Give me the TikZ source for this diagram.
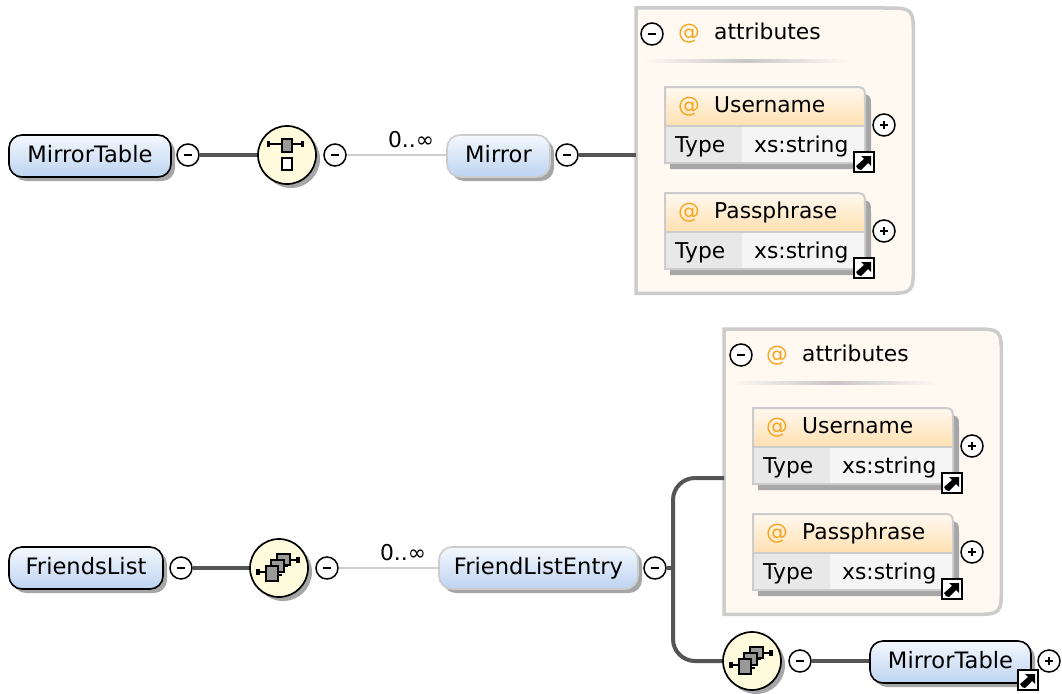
\documentclass[tikz,border=0pt]{standalone}
\usepackage{fontspec}
\setmainfont{DejaVu Sans}
\usetikzlibrary{shadows,calc}
\definecolor{cream}{HTML}{FFF9F2}
\definecolor{frame}{HTML}{CCCCCC}
\definecolor{wire}{HTML}{555555}
\definecolor{thinw}{HTML}{CFCFCF}
\definecolor{orng}{HTML}{F5A623}
\definecolor{blueA}{HTML}{F4F8FE}
\definecolor{blueB}{HTML}{BDD3F0}
\definecolor{headA}{HTML}{FFF9F0}
\definecolor{headB}{HTML}{FFE0B2}
\definecolor{yel}{HTML}{FFFBDC}
\tikzset{
 x=1pt,y=-1pt,
 lbl/.style={font=\fontsize{21.8}{24}\selectfont,text=black,inner sep=0pt,text height=16pt,text depth=4pt},
 elem/.style={rectangle,rounded corners=13pt,inner sep=0pt,minimum height=42pt,top color=blueA,bottom color=blueB,line width=1.6pt,lbl,
   font=\fontsize{22.6}{24}\selectfont,
   drop shadow={shadow xshift=4pt,shadow yshift=-4pt,fill=black,opacity=.35}},
 elemglobal/.style={elem,draw=black},
 elemlocal/.style={elem,draw=frame},
 minusc/.style={circle,draw=black,fill=white,line width=1.5pt,minimum size=22pt,inner sep=0pt,
   path picture={\draw[line width=1.6pt] ($(path picture bounding box.center)+(-4,0)$) -- ($(path picture bounding box.center)+(4,0)$);}},
 plusc/.style={circle,draw=black,fill=white,line width=1.5pt,minimum size=22pt,inner sep=0pt,
   path picture={\draw[line width=1.6pt] ($(path picture bounding box.center)+(-4,0)$) -- ($(path picture bounding box.center)+(4,0)$);
     \draw[line width=1.6pt] ($(path picture bounding box.center)+(0,-4)$) -- ($(path picture bounding box.center)+(0,4)$);}},
 comp/.style={circle,draw=black,fill=yel,line width=1.7pt,minimum size=58pt,inner sep=0pt,
   drop shadow={shadow xshift=4pt,shadow yshift=-4pt,fill=black,opacity=.35}},
 thickwire/.style={draw=wire,line width=4pt},
 thinwire/.style={draw=thinw,line width=1.8pt},
 attrs/.style={rectangle,inner sep=0pt,anchor=north west,minimum width=277pt,minimum height=285pt},
 attrsframe/.style={draw=frame,line width=3.5pt,fill=cream},
 atsign/.style={lbl,text=orng},
 iconbox/.style={draw=black,line width=1.8pt,fill=black!40},
 iconwhite/.style={draw=black,line width=1.8pt,fill=white},
 iconwire/.style={draw=black,line width=1.8pt},
}
% reference arrow icon: name, x, y
\newcommand{\linkicon}[3]{%
 \node[rectangle,draw=black,fill=white,line width=1.5pt,minimum size=20pt,inner sep=0pt,
   path picture={
     \coordinate (pc) at (path picture bounding box.center);
     \fill[black] ($(pc)+(-6,7)$) -- ($(pc)+(-8,4)$) -- ($(pc)+(0,-3)$) -- ($(pc)+(-3,-6)$) -- ($(pc)+(7,-6)$) -- ($(pc)+(7,4)$) -- ($(pc)+(4,1)$) -- ($(pc)+(-3,8)$) -- cycle;
   }] (#1) at (#2,#3) {};
}
% attribute declaration box: prefix, x, y, label
\newcommand{\attrdecl}[4]{%
 \fill[black!35] (#2+5,#3+6) -- (#2+192,#3+6) .. controls (#2+206,#3+8) .. (#2+206,#3+20) -- (#2+206,#3+82) -- (#2+5,#3+82) -- cycle;
 \shade[top color=headA,bottom color=headB] (#2,#3) -- (#2+186,#3) .. controls (#2+200,#3) .. (#2+200,#3+14) -- (#2+200,#3+38) -- (#2,#3+38) -- cycle;
 \fill[black!9] (#2+1,#3+39) rectangle (#2+77,#3+75);
 \fill[black!4] (#2+77,#3+39) rectangle (#2+199,#3+75);
 \draw[frame,line width=2pt] (#2,#3+38.5) -- (#2+199,#3+38.5);
 \draw[frame,line width=2pt] (#2,#3+76) -- (#2,#3) -- (#2+186,#3) .. controls (#2+200,#3) .. (#2+200,#3+14) -- (#2+200,#3+76) -- cycle;
 \node[atsign,anchor=center] (#1at) at (#2+24,#3+19) {@};
 \node[lbl,anchor=west] (#1name) at (#2+49,#3+19) {#4};
 \node[lbl,anchor=west] (#1type) at (#2+10,#3+59) {Type};
 \node[lbl,anchor=west] (#1val) at (#2+89,#3+59) {xs:string};
 \node[plusc] (#1plus) at (#2+219,#3+38) {};
 \linkicon{#1link}{#2+199}{#3+75}
}
\newcommand{\seqicon}[1]{%
 \begin{scope}[shift={(#1)}]
  \draw[iconwire] (-17,-11) -- (16,-11);
  \fill[black] (-20,-14) rectangle (-17,-8);
  \fill[black] (14,-14) rectangle (17,-8);
  \draw[iconbox] (-5,-16) rectangle (5,-3);
  \draw[iconwhite] (-5,3) rectangle (5,15);
 \end{scope}
}
\newcommand{\allicon}[1]{%
 \begin{scope}[shift={(#1)}]
  \draw[iconwire] (11,-8) -- (19,-8);
  \fill[black] (17,-11) rectangle (21,-5);
  \draw[iconbox] (-2,-14) rectangle (11,-3);
  \draw[iconbox] (-8,-8) rectangle (5,4);
  \draw[iconwire] (5,-2) -- (9,-2);
  \draw[iconwire] (-1,4) -- (-1,7) -- (3,7);
  \draw[iconwire] (-22,4) -- (-13,4);
  \fill[black] (-23,1) rectangle (-19,7);
  \draw[iconbox] (-13,-2) rectangle (-1,13);
 \end{scope}
}
\newcommand{\attrsframepath}[1]{%
 \draw[attrsframe] (#1.south west) -- (#1.north west) -- ($(#1.north east)+(-30,0)$) .. controls (#1.north east) .. ($(#1.north east)+(0,30)$) -- ($(#1.south east)+(0,-30)$) .. controls (#1.south east) .. ($(#1.south east)+(-30,0)$) -- cycle;
}
\begin{document}
\begin{tikzpicture}
\useasboundingbox (0,0) rectangle (1062,693);
\fill[white] (0,0) rectangle (1062,693);

% ---------- first diagram
\node[attrs] (a1) at (636,8) {};
\attrsframepath{a1}
\node[elemglobal,minimum width=162pt] (mt) at (90,156) {MirrorTable};
\node[minusc] (mtm) at (188,155) {};
\node[comp] (c1) at (287,155) {};
\seqicon{287,155}
\node[minusc] (c1m) at (335,155) {};
\node[elemlocal,minimum width=103pt] (mir) at (498.5,156) {Mirror};
\node[minusc] (mirm) at (567,155) {};
\node[lbl] (l1) at (411,141) {0..∞};
\draw[thickwire] (mtm) -- (c1);
\draw[thinwire] (c1m) -- (c1m -| mir.west);
\draw[thickwire] (mirm) -- (mirm -| a1.west);
\node[minusc] (a1m) at (652,34) {};
\node[atsign] (a1at) at (689,34) {@};
\node[lbl,anchor=west] (a1t) at (714,34) {attributes};
\shade[left color=cream,right color=cream,middle color=black!22] (642,60) rectangle (850,63);
\attrdecl{u1}{665}{87}{Username}
\attrdecl{p1}{665}{193}{Passphrase}

% ---------- second diagram
\node[attrs] (a2) at (724,329) {};
\attrsframepath{a2}
\node[elemglobal,minimum width=154pt] (fl) at (86,568) {FriendsList};
\node[minusc] (flm) at (181,568) {};
\node[comp] (c2) at (279,568) {};
\allicon{279,568}
\node[minusc] (c2m) at (327,568) {};
\node[elemlocal,minimum width=199pt] (fe) at (538.5,568) {FriendListEntry};
\node[minusc] (fem) at (655,568) {};
\node[lbl] (l2) at (403,554) {0..∞};
\node[comp] (c3) at (752,661) {};
\allicon{752,661}
\node[minusc] (c3m) at (800,661) {};
\node[elemglobal,minimum width=161pt] (mt2) at (950.5,662) {MirrorTable};
\linkicon{mt2link}{1028}{680}
\node[plusc] (mt2p) at (1049,661) {};
\coordinate (ja) at (724,478);
\coordinate (jm) at (673,568);
\draw[thickwire] (flm) -- (c2);
\draw[thinwire] (c2m) -- (fe);
\draw[thickwire] (fem) -- (jm);
\draw[thickwire,rounded corners=22pt] (ja) -- (jm |- ja) -- (jm |- c3) -- (c3.west);
\draw[thickwire] (c3m) -- (c3m -| mt2.west);
\node[minusc] (a2m) at (741,355) {};
\node[atsign] (a2at) at (777,355) {@};
\node[lbl,anchor=west] (a2t) at (802,355) {attributes};
\shade[left color=cream,right color=cream,middle color=black!22] (730,381) rectangle (938,384);
\attrdecl{u2}{753}{408}{Username}
\attrdecl{p2}{753}{514}{Passphrase}
\end{tikzpicture}
\end{document}
